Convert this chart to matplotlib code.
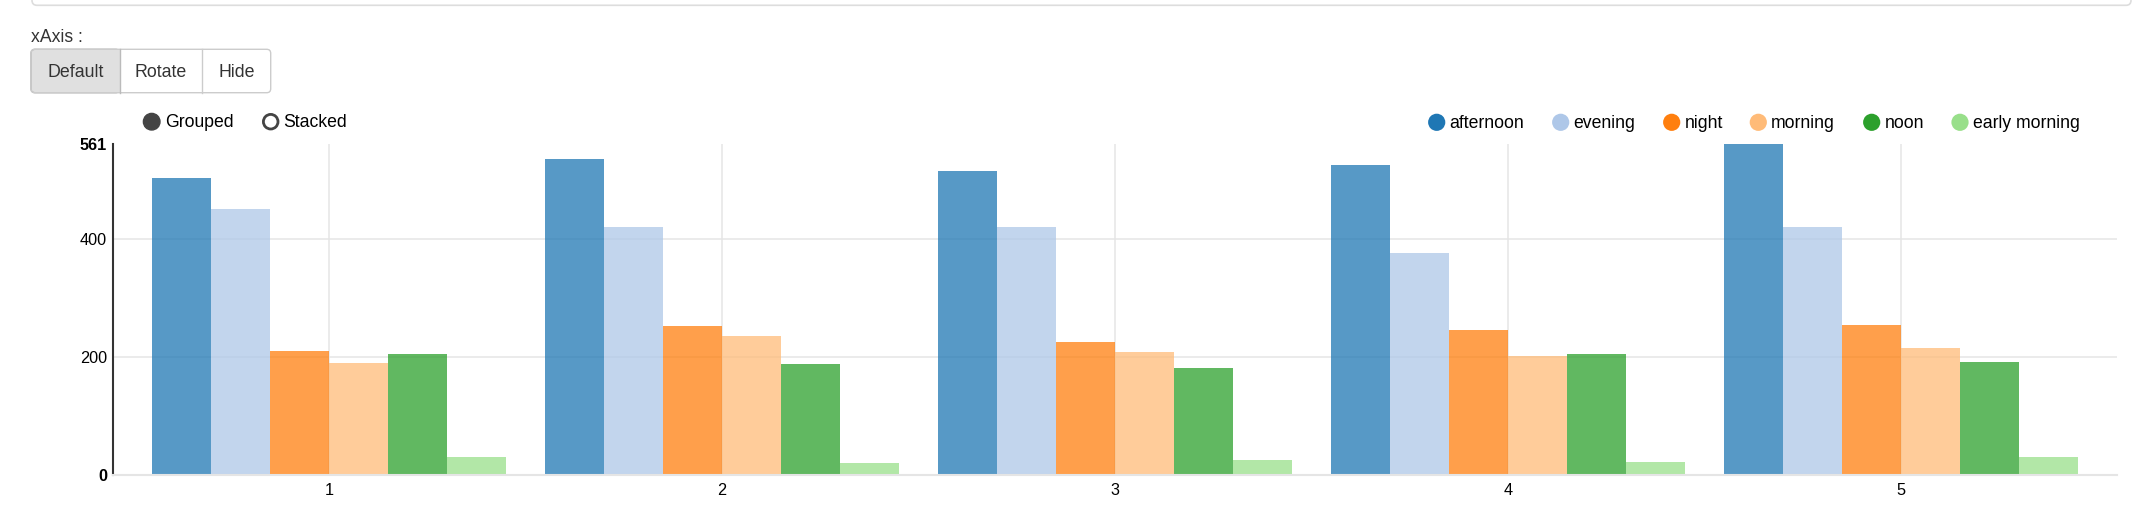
import numpy as np
import matplotlib
matplotlib.use('Agg')
import matplotlib.pyplot as plt
from matplotlib.patches import Circle, FancyBboxPatch, Rectangle

plt.rcParams['font.family'] = ['Liberation Sans', 'DejaVu Sans']

# data
groups = ['1', '2', '3', '4', '5']
series = ['afternoon', 'evening', 'night', 'morning', 'noon', 'early morning']
afternoon = [504, 536, 515, 525, 561]
evening = [450, 420, 421, 377, 421]
night = [210, 253, 225, 245, 255]
morning = [190, 236, 208, 202, 216]
noon = [205, 188, 181, 205, 191]
early_morning = [31, 20, 25, 22, 31]
values = [afternoon, evening, night, morning, noon, early_morning]
colors = ['#1f77b4', '#aec7e8', '#ff7f0e', '#ffbb78', '#2ca02c', '#98df8a']
y_ticks = [0, 200, 400, 561]

W, H = 2132, 517
fig = plt.figure(figsize=(W / 100, H / 100), dpi=100)

# main chart area (pixel box 112.7..2117 x 144..475)
ax = fig.add_axes([112.7 / W, (H - 475) / H, 2004.3 / W, 331 / H])
x = np.arange(len(groups))
bw = 0.15
for i, (name, vals) in enumerate(zip(series, values)):
    ax.bar(x + (i - 2.5) * bw, vals, bw, color=colors[i], alpha=0.75, linewidth=0, zorder=2)

ax.set_xlim(-0.55, len(groups) - 0.45)
ax.set_ylim(0, max(y_ticks))
ax.set_xticks(x)
ax.set_xticklabels(groups)
ax.set_yticks(y_ticks)
ax.set_yticklabels([str(v) for v in y_ticks])
for lab, v in zip(ax.get_yticklabels(), y_ticks):
    if v in (y_ticks[0], y_ticks[-1]):
        lab.set_fontweight('bold')
ax.tick_params(length=0, labelsize=11.7, colors='black')
ax.tick_params(axis='y', pad=4)
ax.tick_params(axis='x', pad=6)
ax.grid(True, color='#e5e5e5', linewidth=1.1, zorder=0)
ax.set_axisbelow(True)
glines = ax.yaxis.get_gridlines()
glines[0].set_visible(False)
glines[-1].set_visible(False)
for s in ['top', 'right']:
    ax.spines[s].set_visible(False)
ax.spines['left'].set_color('#333333')
ax.spines['left'].set_linewidth(1.5)
ax.spines['bottom'].set_color('#e5e5e5')
ax.spines['bottom'].set_linewidth(1.5)

# overlay in pixel coordinates for the controls
ov = fig.add_axes([0, 0, 1, 1])
ov.set_xlim(0, W)
ov.set_ylim(H, 0)
ov.axis('off')

# bottom of the panel above
ov.add_patch(FancyBboxPatch((32, -40), W - 33, 45.3, boxstyle='round,pad=0,rounding_size=5',
                            facecolor='none', edgecolor='#dddddd', linewidth=1.2))

ov.text(31, 41.7, 'xAxis :', fontsize=12.7, color='#333333', va='baseline')

# button group
ov.add_patch(FancyBboxPatch((31, 49.3), 88.7, 43.4, boxstyle='round,pad=0,rounding_size=4',
                            facecolor='#e0e0e0', edgecolor='#adadad', linewidth=1))
ov.add_patch(FancyBboxPatch((31, 49.3), 239.7, 43.4, boxstyle='round,pad=0,rounding_size=4',
                            facecolor='none', edgecolor='#cccccc', linewidth=1))
ov.add_patch(Rectangle((113, 49.8), 6.7, 42.4, facecolor='#e0e0e0', edgecolor='none'))
ov.plot([119.7, 119.7], [49.3, 92.7], color='#bbbbbb', linewidth=1)
ov.plot([202.3, 202.3], [49.3, 92.7], color='#cccccc', linewidth=1)
for label, cx in zip(['Default', 'Rotate', 'Hide'], [75.3, 161, 236.5]):
    ov.text(cx, 77.3, label, fontsize=12.8, color='#333333', ha='center', va='baseline')

# grouped / stacked switch
ov.add_patch(Circle((151.7, 121.7), 8.3, facecolor='#444444', edgecolor='#444444', linewidth=1))
ov.text(165, 126.7, 'Grouped', fontsize=12.7, color='black', va='baseline')
ov.add_patch(Circle((270.7, 121.7), 7.3, facecolor='white', edgecolor='#444444', linewidth=2))
ov.text(282.7, 126.7, 'Stacked', fontsize=12.7, color='black', va='baseline')

# series legend
legend_x = [1436.7, 1560.7, 1671.7, 1758.3, 1871.7, 1960]
for name, c, lx in zip(series, colors, legend_x):
    ov.add_patch(Circle((lx, 122.3), 8.6, facecolor=c, edgecolor='none'))
    ov.text(lx + 12.6, 128.3, name, fontsize=12.7, color='black', va='baseline')

fig.savefig('out.png', dpi=100)
